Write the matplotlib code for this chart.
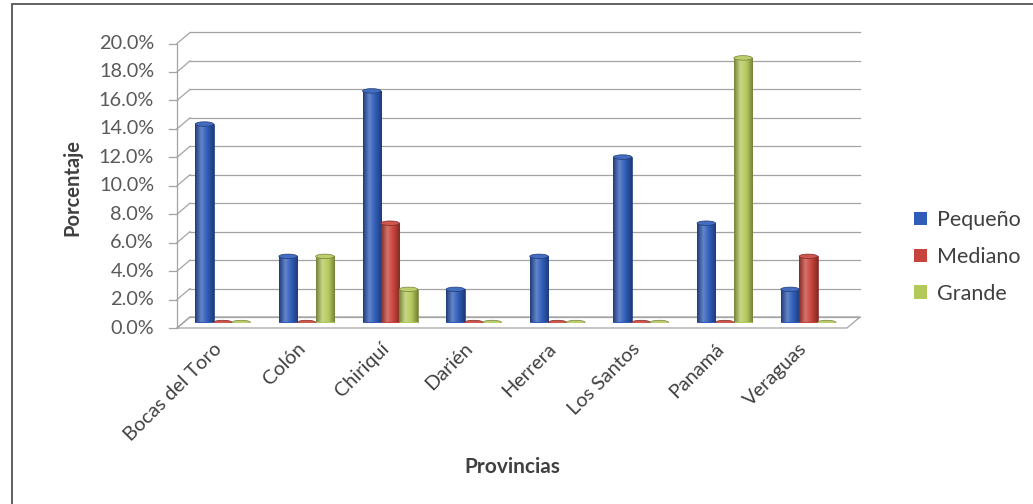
import numpy as np
import matplotlib
matplotlib.use("Agg")
import matplotlib.pyplot as plt
from matplotlib.patches import Ellipse, Rectangle, Polygon, Patch
from matplotlib.colors import LinearSegmentedColormap, to_rgb

provincias = ["Bocas del Toro", "Colón", "Chiriquí", "Darién",
              "Herrera", "Los Santos", "Panamá", "Veraguas"]
pequeno = [13.95, 4.65, 16.28, 2.33, 4.65, 11.63, 6.98, 2.33]
mediano = [0.0, 0.0, 6.98, 0.0, 0.0, 0.0, 0.0, 4.65]
grande = [0.0, 4.65, 2.33, 0.0, 0.0, 0.0, 18.60, 0.0]
series_names = ["Pequeño", "Mediano", "Grande"]
series_colors = ["#2f5cb8", "#c8433b", "#b4c95c"]
y_ticks = np.arange(0, 21, 2)

plt.rcParams["font.family"] = ["Lato", "DejaVu Sans"]

W, H, DPI = 1033, 504, 100
fig = plt.figure(figsize=(W / DPI, H / DPI), dpi=DPI)

# axes = middle depth plane of the pseudo-3D chart
ax_l, ax_r, ax_b, ax_t = 183.5, 853.5, 322.5, 38.0
ax = fig.add_axes([ax_l / W, 1 - ax_b / H, (ax_r - ax_l) / W, (ax_b - ax_t) / H])
x0, x1 = -0.47, 7.54
ax.set_xlim(x0, x1)
ax.set_ylim(0, 20)
ax.axis("off")

# pixel -> data conversion for the depth offsets
px_x = (x1 - x0) / (ax_r - ax_l)
px_y = 20 / (ax_b - ax_t)
dx, dy = 6.5 * px_x, 5.5 * px_y

grid_c = "#a3a3a3"
# back wall gridlines + left diagonal connectors + front axis ticks
for yv in y_ticks:
    ax.plot([x0 + dx, x1 + dx], [yv + dy, yv + dy], color=grid_c, lw=0.9,
            clip_on=False, zorder=1)
    ax.plot([x0 - dx, x0 + dx], [yv - dy, yv + dy], color=grid_c, lw=0.9,
            clip_on=False, zorder=1)
    ax.plot([x0 - dx - 8 * px_x, x0 - dx], [yv - dy, yv - dy], color=grid_c,
            lw=0.9, clip_on=False, zorder=1)
    ax.text(x0 - dx - 23 * px_x, yv - dy, f"{yv:.1f}%", ha="right", va="center",
            fontsize=14.3, color="#595959")
ax.plot([x0 - dx, x0 - dx], [-dy, 20 - dy], color=grid_c, lw=0.9,
        clip_on=False, zorder=1)

# floor
floor = Polygon([(x0 - dx, -dy), (x1 - dx, -dy), (x1 + dx, dy), (x0 + dx, dy)],
                closed=True, fill=False, edgecolor=grid_c, lw=0.9, clip_on=False,
                zorder=1)
ax.add_patch(floor)


def mix(c, other, f):
    c = np.array(to_rgb(c))
    return tuple(c * (1 - f) + np.array(other) * f)


bar_w = 0.22
cap_h = 4.5 * px_y
grad = np.linspace(0, 1, 64).reshape(1, -1)
for k, (vals, col) in enumerate(zip([pequeno, mediano, grande], series_colors)):
    dark = mix(col, (0, 0, 0), 0.35)
    light = mix(col, (1, 1, 1), 0.25)
    cmap = LinearSegmentedColormap.from_list(
        f"cyl{k}", [dark, light, col, dark])
    xs = np.arange(len(provincias)) + (k - 1) * bar_w
    bars = ax.bar(xs, vals, width=bar_w, color=col, edgecolor=dark, lw=0.5,
                  zorder=3)
    for b, xc, v in zip(bars, xs, vals):
        if v > 0:
            im = ax.imshow(grad, cmap=cmap, aspect="auto", zorder=3.5,
                           extent=[xc - bar_w / 2, xc + bar_w / 2, 0, v])
            im.set_clip_path(b)
        ax.add_patch(Ellipse((xc, v), bar_w, cap_h, facecolor=mix(col, (1, 1, 1), 0.1),
                             edgecolor=dark, lw=0.5, zorder=4))
ax.set_xlim(x0, x1)
ax.set_ylim(0, 20)

# category labels
for i, name in enumerate(provincias):
    ax.text(i - 0.12, -dy - 12 * px_y, name, rotation=45, rotation_mode="anchor",
            ha="right", va="top", fontsize=14.3, color="#404040")

fig.text(72 / W, 1 - 187 / H, "Porcentaje", rotation=90, ha="center", va="center",
         fontsize=14.5, fontweight="bold", color="#404040")
fig.text(512 / W, 1 - 467 / H, "Provincias", ha="center", va="center",
         fontsize=15, fontweight="bold", color="#404040")

handles = [Patch(facecolor=c, edgecolor="none") for c in series_colors]
fig.legend(handles, series_names, loc="center left",
           bbox_to_anchor=(895 / W, 1 - 257 / H), frameon=False,
           handlelength=0.6, handleheight=0.6, handletextpad=0.45,
           labelspacing=0.78, fontsize=15.5, labelcolor="#404040")

# outer chart frame
fig.add_artist(Rectangle((12 / W, -0.05), 1.2, 1.05 - 4 / H, transform=fig.transFigure,
                         fill=False, edgecolor="#555555", lw=1.3))

fig.savefig("out.png", dpi=DPI)
